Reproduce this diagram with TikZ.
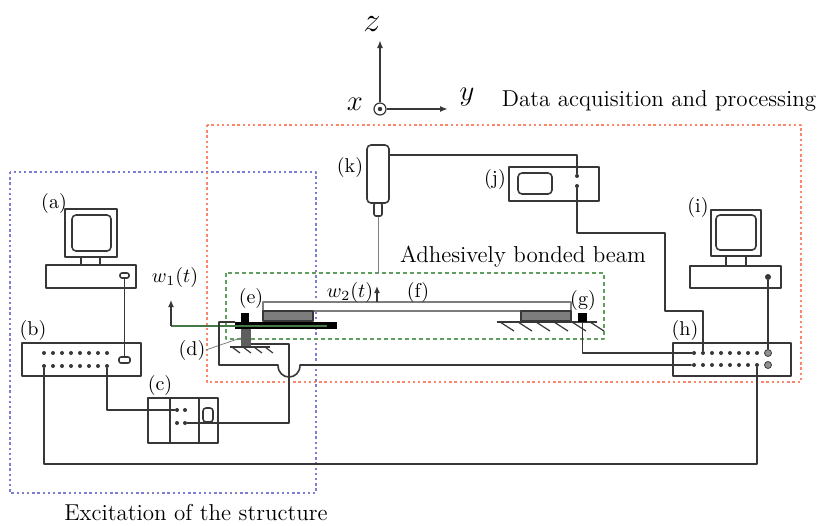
\documentclass[tikz,border=0pt]{standalone}
\usetikzlibrary{arrows.meta, positioning}

\definecolor{wirecol}{RGB}{55,55,55}
\definecolor{acqcol}{RGB}{250,135,105}
\definecolor{exccol}{RGB}{125,125,215}
\definecolor{beamcol}{RGB}{95,160,95}
\definecolor{bondcol}{RGB}{125,125,125}

\tikzset{
  wire/.style={draw=wirecol, line width=0.8pt},
  devbox/.style={draw=wirecol, line width=0.8pt, fill=white, inner sep=0pt},
  screen/.style={devbox, rounded corners=2pt},
  pin/.style={circle, fill=wirecol, inner sep=0pt, minimum size=2pt},
  bigpin/.style={circle, draw=wirecol, fill=wirecol!55, inner sep=0pt, minimum size=3.5pt},
  tag/.style={font=\fontsize{10}{12}\selectfont, inner sep=0pt},
  caption/.style={font=\fontsize{11.5}{13}\selectfont, inner sep=0pt},
  zone/.style={line width=1.1pt, dash pattern=on 1.2pt off 1.4pt},
  hatch/.style={draw=wirecol, line width=0.6pt}
}

\begin{document}
\begin{tikzpicture}[x=0.5pt, y=-0.5pt, line join=round]
			\useasboundingbox (0,0) rectangle (824,525);

			% Dotted zones
			\draw[zone, draw=exccol] (10,172) rectangle (316,493);
			\draw[zone, draw=acqcol] (207,125) rectangle (801,382);
			\draw[draw=beamcol, line width=0.8pt, dash pattern=on 2pt off 1.5pt] (226,273) rectangle (604,339);

			\node[caption] (acq) at (659,101) {Data acquisition and processing};
			\node[caption] (beam) at (523,257) {Adhesively bonded beam};
			\node[caption] (exc) at (196,513) {Excitation of the structure};

			% Axes
			\coordinate (zend) at (380,40);
			\coordinate (yend) at (448,109);
			\node[draw=wirecol, circle, line width=0.6pt, minimum size=6pt, inner sep=0pt] (xdot) at (380,109) {};
			\fill[wirecol] (xdot) circle (1.1pt);
			\draw[wire, -{Latex[length=4pt,width=3pt]}] (xdot) -- (zend);
			\draw[wire, -{Latex[length=4pt,width=3pt]}] (xdot) -- (yend);
			\node[font=\fontsize{19}{19}\selectfont, inner sep=0pt] (zlab) at (372,24) {$z$};
			\node[font=\fontsize{14}{14}\selectfont] (xlab) at (355,104) {$x$};
			\node[font=\fontsize{14}{14}\selectfont] (ylab) at (467,97) {$y$};

			% Computer (a)
			\node[devbox, minimum width=26pt, minimum height=24pt] (monA) at (91,233) {};
			\node[screen, minimum width=19.5pt, minimum height=18pt] (scrA) at (91.5,233) {};
			\draw[wire] (81,257) -- (81,265) (100,257) -- (100,265);
			\node[devbox, minimum width=45pt, minimum height=11.5pt] (baseA) at (91,276.5) {};
			\node[screen, rounded corners=1pt, minimum width=4.5pt, minimum height=2.5pt] (btnA) at (124.5,275.5) {};
			\node[tag] (la) at (54,203) {(a)};

			% Generator (b)
			\node[devbox, minimum width=59.5pt, minimum height=16.5pt] (gen) at (81.5,359.5) {};
			\node[screen, rounded corners=1pt, minimum width=5.5pt, minimum height=3pt] (btnB) at (124.5,360) {};
			\foreach \i in {1,...,8} {
				\node[pin] (bt\i) at ({44+9*(\i-1)},353) {};
				\node[pin] (bb\i) at ({44+9*(\i-1)},366) {};
			}
			\node[tag] (lb) at (33,330) {(b)};

			% Amplifier (c)
			\node[devbox, minimum width=35pt, minimum height=22.5pt] (amp) at (183,420.5) {};
			\draw[wire] (170,398) -- (170,443) (199,398) -- (199,443);
			\node[screen, rounded corners=1.5pt, minimum width=5pt, minimum height=7pt] (knob) at (208,415) {};
			\node[pin] (ci1) at (177,410) {};
			\node[pin] (ci2) at (185,410) {};
			\node[pin] (co1) at (177,423) {};
			\node[pin] (co2) at (185,423) {};
			\node[tag] (lc) at (160,385) {(c)};

			% Oscilloscope (j)
			\node[devbox, minimum width=45pt, minimum height=17pt] (osc) at (554,184) {};
			\node[screen, minimum width=17pt, minimum height=10.5pt] (scrJ) at (535,183.5) {};
			\node[pin] (jp1) at (577,176) {};
			\node[pin] (jp2) at (577,186) {};
			\node[tag] (lj) at (495,179) {(j)};

			% Laser sensor (k)
			\node[devbox, rounded corners=1pt, minimum width=4pt, minimum height=6.5pt] (tip) at (378,209.5) {};
			\node[devbox, rounded corners=2pt, minimum width=11pt, minimum height=29pt] (sens) at (378,174) {};
			\coordinate (kout) at (389,155);
			\coordinate (spot) at (378,273);
			\draw[gray, line width=0.5pt] (tip) -- (spot);
			\node[tag] (lk) at (350,167) {(k)};

			% Computer (i)
			\node[devbox, minimum width=25pt, minimum height=23pt] (monI) at (736,233) {};
			\node[screen, minimum width=20pt, minimum height=17.5pt] (scrI) at (736,232.5) {};
			\draw[wire] (726,256) -- (726,266) (746,256) -- (746,266);
			\node[devbox, minimum width=45.5pt, minimum height=11pt] (baseI) at (735.5,277) {};
			\node[pin, minimum size=3pt] (iport) at (768,277) {};
			\node[tag] (li) at (698,207) {(i)};

			% Analyser (h)
			\node[devbox, minimum width=59pt, minimum height=16.5pt] (anl) at (732,359.5) {};
			\foreach \i in {1,...,8} {
				\node[pin] (ht\i) at ({694+9*(\i-1)},353) {};
				\node[pin] (hb\i) at ({694+9*(\i-1)},365) {};
			}
			\node[bigpin] (hcT) at (768,353) {};
			\node[bigpin] (hcB) at (768,365) {};
			\node[tag] (lh) at (685,330) {(h)};

			% Beam (f) with its bonds and supports
			\draw[draw=bondcol, fill=white, line width=0.8pt] (263,302) rectangle (571,311);
			\draw[draw=wirecol, fill=bondcol, line width=0.6pt] (263,311) rectangle (313,321);
			\draw[draw=wirecol, fill=bondcol, line width=0.6pt] (521,311) rectangle (571,321);
			\draw[hatch] (497,322) -- (597,322);
			\foreach \x in {500,518,536,554,572,590}
				\draw[hatch] (\x,322) -- ++(14,9);
			\node[fill=black, minimum size=4.5pt, inner sep=0pt] (gsq) at (582.5,317.5) {};
			\node[tag] (lf) at (418,292) {(f)};
			\node[tag] (lg) at (583,300) {(g)};

			% Clamp (e) on the shaker (d)
			\fill[black] (241,313) rectangle (249,322);
			\node[fill=bondcol!75!black, minimum width=5pt, minimum height=9pt, inner sep=0pt] (ped) at (246,338) {};
			\node[fill=black, minimum width=51pt, minimum height=3.5pt, inner sep=0pt] (bar) at (286,325.5) {};
			\draw[hatch] (230,347) -- (270,347);
			\foreach \x in {232,243,254,265}
				\draw[hatch] (\x,347) -- ++(8,6);
			\coordinate (ein) at (235,322);
			\coordinate (din) at (251,344);
			\node[tag] (le) at (251,298) {(e)};
			\node[tag] (ld) at (192,350) {(d)};
			\draw[gray, line width=0.4pt] (ld.east) -- (ped.west);

			% Displacements
			\coordinate (w1foot) at (171,326);
			\coordinate (w1tip) at (171,300);
			\coordinate (barend) at (327,326);
			\draw[beamcol!75!black, line width=0.6pt] (w1foot) -- (barend);
			\draw[wire, -{Latex[length=3.5pt,width=3pt]}] (w1foot) -- (w1tip);
			\node[tag] (w1lab) at (175,277) {$w_1(t)$};
			\coordinate (w2foot) at (377,302);
			\coordinate (w2tip) at (377,286);
			\draw[wire, -{Latex[length=3.5pt,width=3pt]}] (w2foot) -- (w2tip);
			\node[tag] (w2lab) at (350,292) {$w_2(t)$};

			% Cables
			\coordinate (loop) at (757,464);
			\coordinate (dup) at (289,344);
			\coordinate (r1) at (665,233);
			\coordinate (r2) at (703,311);
			\draw[wire] (btnA) -- (btnB);
			\draw[wire] (bb1) |- (loop) -- (hb8);
			\draw[wire] (bb8) |- (ci1);
			\draw[wire] (co2) -| (dup) -- (din);
			\draw[wire] (hb1) -- (300,365) .. controls (300,381) and (278,381) .. (278,365) -- (219,365) -- (219,322) -- (ein);
			\draw[wire] (gsq) |- (ht1);
			\draw[wire] (kout) -| (jp1);
			\draw[wire] (jp2) |- (r1) |- (r2) -- (ht2);
			\draw[wire] (iport) -- (hcT);

		\end{tikzpicture}
\end{document}
